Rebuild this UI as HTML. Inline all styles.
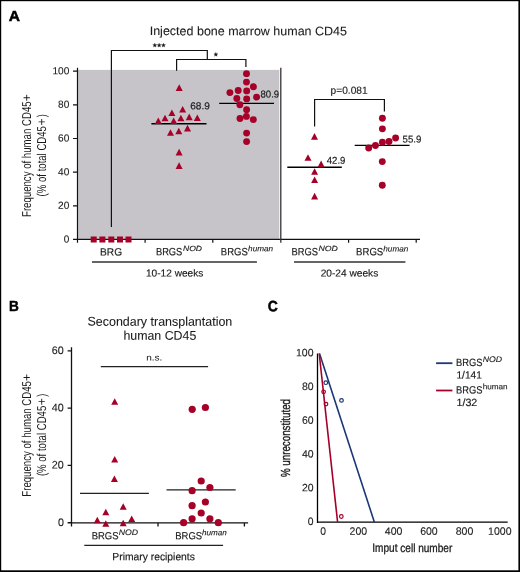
<!DOCTYPE html>
<html><head><meta charset="utf-8"><style>
html,body{margin:0;padding:0;background:#fff;width:520px;height:572px;overflow:hidden}
svg{display:block;will-change:transform}
text{font-family:"Liberation Sans",sans-serif;font-kerning:none;white-space:pre;text-rendering:geometricPrecision}
</style></head><body>
<svg width="520" height="572" viewBox="0 0 520 572">
<rect width="520" height="572" fill="#fff"/>
<rect x="0" y="0" width="520" height="1.2" fill="#000"/>
<rect x="0" y="0" width="1.2" height="572" fill="#000"/>
<rect x="518.4" y="0" width="1.6" height="572" fill="#000"/>
<rect x="0" y="570.3" width="520" height="1.7" fill="#000"/>
<rect x="78.1" y="69.9" width="201.2" height="169" fill="#c6c4c9"/>
<path d="M77.5,67.8V242.8M73,71.20H77.5M73,104.86H77.5M73,138.52H77.5M73,172.18H77.5M73,205.84H77.5M73,239.50H77.5M73,239.4H420M145.1,239.4V242.7M212.8,239.4V242.7M348.6,239.4V242.7M416.2,239.4V242.7M111.4,227V50.5H207.3V59.5M176.6,70.8V59.5H245.9V67M314.6,126.5V99.5H384.4V111.5" fill="none" stroke="#111" stroke-width="1.2"/>
<g fill="#1a1a1a" stroke="#1a1a1a" stroke-width="0.3"><polygon points="154.80,43.15 155.36,44.53 156.84,44.64 155.70,45.59 156.06,47.04 154.80,46.25 153.54,47.04 153.90,45.59 152.76,44.64 154.24,44.53"/><polygon points="159.15,43.15 159.71,44.53 161.19,44.64 160.05,45.59 160.41,47.04 159.15,46.25 157.89,47.04 158.25,45.59 157.11,44.64 158.59,44.53"/><polygon points="163.45,43.15 164.01,44.53 165.49,44.64 164.35,45.59 164.71,47.04 163.45,46.25 162.19,47.04 162.55,45.59 161.41,44.64 162.89,44.53"/><polygon points="215.85,52.35 216.41,53.73 217.89,53.84 216.75,54.79 217.11,56.24 215.85,55.45 214.59,56.24 214.95,54.79 213.81,53.84 215.29,53.73"/></g>
<path d="M280.8,67.7V242.7" fill="none" stroke="#333" stroke-width="1.3"/>
<path d="M151.4,123.8H206.5M219.2,103.4H274M287.3,167.3H341.8M354.7,145.4H409.6" fill="none" stroke="#000" stroke-width="1.4"/>
<path d="M92,262H256.9M294,262H405.4" fill="none" stroke="#333" stroke-width="1.5"/>
<path d="M71.5,347.2V526.4M67.6,350.90H71.5M67.6,408.17H71.5M67.6,465.44H71.5M67.6,522.71H71.5M67.6,522.8H248.1M158.0,522.8V526.5M244.4,522.8V526.5" fill="none" stroke="#111" stroke-width="1.3"/>
<path d="M100.8,366.6H208.1M84.3,545.4H223.1" fill="none" stroke="#222" stroke-width="1.3"/>
<path d="M80,493.3H148.9M166.5,489.8H235.7" fill="none" stroke="#222" stroke-width="1.3"/>
<g fill="#a60029"><rect x="90.70" y="236.5" width="6" height="6"/><rect x="99.40" y="236.5" width="6" height="6"/><rect x="108.30" y="236.5" width="6" height="6"/><rect x="117.00" y="236.5" width="6" height="6"/><rect x="125.50" y="236.5" width="6" height="6"/><polygon points="179.20,84.30 175.70,90.90 182.70,90.90"/><polygon points="182.65,106.00 179.15,112.60 186.15,112.60"/><polygon points="171.90,109.50 168.40,116.10 175.40,116.10"/><polygon points="165.00,114.70 161.50,121.30 168.50,121.30"/><polygon points="180.90,114.70 177.40,121.30 184.40,121.30"/><polygon points="189.20,113.60 185.70,120.20 192.70,120.20"/><polygon points="197.30,114.40 193.80,121.00 200.80,121.00"/><polygon points="158.30,117.50 154.80,124.10 161.80,124.10"/><polygon points="173.65,117.50 170.15,124.10 177.15,124.10"/><polygon points="187.50,124.80 184.00,131.40 191.00,131.40"/><polygon points="178.80,127.70 175.30,134.30 182.30,134.30"/><polygon points="170.50,129.20 167.00,135.80 174.00,135.80"/><polygon points="179.10,148.80 175.60,155.40 182.60,155.40"/><polygon points="179.10,162.30 175.60,168.90 182.60,168.90"/><circle cx="246.50" cy="73.65" r="3.45"/><circle cx="246.50" cy="82.10" r="3.45"/><circle cx="253.40" cy="86.80" r="3.45"/><circle cx="238.20" cy="90.50" r="3.45"/><circle cx="246.70" cy="90.90" r="3.45"/><circle cx="229.90" cy="92.60" r="3.45"/><circle cx="256.60" cy="97.10" r="3.45"/><circle cx="236.80" cy="98.50" r="3.45"/><circle cx="246.70" cy="98.90" r="3.45"/><circle cx="239.85" cy="104.80" r="3.45"/><circle cx="246.60" cy="109.80" r="3.45"/><circle cx="246.40" cy="116.40" r="3.45"/><circle cx="240.00" cy="118.50" r="3.45"/><circle cx="253.30" cy="119.60" r="3.45"/><circle cx="246.60" cy="133.10" r="3.45"/><circle cx="246.60" cy="141.60" r="3.45"/><polygon points="314.50,133.10 311.00,139.70 318.00,139.70"/><polygon points="308.00,154.20 304.50,160.80 311.50,160.80"/><polygon points="321.10,160.60 317.60,167.20 324.60,167.20"/><polygon points="314.60,168.20 311.10,174.80 318.10,174.80"/><polygon points="314.60,176.50 311.10,183.10 318.10,183.10"/><polygon points="314.60,192.80 311.10,199.40 318.10,199.40"/><circle cx="382.40" cy="118.20" r="3.45"/><circle cx="382.40" cy="128.85" r="3.45"/><circle cx="395.60" cy="137.95" r="3.45"/><circle cx="389.00" cy="141.50" r="3.45"/><circle cx="382.40" cy="142.20" r="3.45"/><circle cx="375.45" cy="145.55" r="3.45"/><circle cx="368.70" cy="148.05" r="3.45"/><circle cx="382.30" cy="161.60" r="3.45"/><circle cx="382.30" cy="185.20" r="3.45"/><polygon points="114.70,398.20 111.20,404.70 118.20,404.70"/><polygon points="114.70,455.90 111.20,462.40 118.20,462.40"/><polygon points="114.40,475.50 110.90,482.00 117.90,482.00"/><polygon points="123.20,503.20 119.70,509.70 126.70,509.70"/><polygon points="105.80,508.80 102.30,515.30 109.30,515.30"/><polygon points="97.30,516.70 93.80,523.20 100.80,523.20"/><polygon points="131.70,515.60 128.20,522.10 135.20,522.10"/><polygon points="105.80,520.20 102.30,526.70 109.30,526.70"/><polygon points="123.20,519.80 119.70,526.30 126.70,526.30"/><circle cx="192.20" cy="409.30" r="3.60"/><circle cx="205.40" cy="407.50" r="3.60"/><circle cx="201.20" cy="481.00" r="3.60"/><circle cx="192.10" cy="490.70" r="3.60"/><circle cx="209.90" cy="487.50" r="3.60"/><circle cx="205.40" cy="502.00" r="3.60"/><circle cx="192.10" cy="505.70" r="3.60"/><circle cx="201.20" cy="513.00" r="3.60"/><circle cx="192.10" cy="518.80" r="3.60"/><circle cx="209.90" cy="518.80" r="3.60"/><circle cx="183.60" cy="522.70" r="3.60"/><circle cx="218.30" cy="522.70" r="3.60"/></g>
<path d="M317.5,353.5V522.9M316.9,522.2H507.7" fill="none" stroke="#000" stroke-width="1.3"/>
<path d="M319.5,353.5L374.4,522.2" fill="none" stroke="#1c3776" stroke-width="1.6"/>
<path d="M319.2,353.5L337.6,522.2" fill="none" stroke="#a60029" stroke-width="1.6"/>
<g fill="none" stroke-width="1.2"><circle cx="325.80" cy="382.70" r="1.8" stroke="#1c3776"/><circle cx="341.50" cy="400.40" r="1.8" stroke="#1c3776"/><circle cx="323.60" cy="391.80" r="1.8" stroke="#a60029"/><circle cx="326.00" cy="404.10" r="1.8" stroke="#a60029"/><circle cx="341.30" cy="516.50" r="1.8" stroke="#a60029"/></g>
<path d="M436.1,363.2H452.4" stroke="#1c3776" stroke-width="1.8"/>
<path d="M436.1,390.5H452.4" stroke="#a60029" stroke-width="1.8"/>
<text x="8.71" y="21.00" transform="rotate(0.05 14.32 21.00)" textLength="11.25" lengthAdjust="spacingAndGlyphs" font-weight="bold" style="font-size:14.60px" fill="#000" stroke="#000" stroke-width="0.50">A</text>
<text x="149.69" y="35.20" transform="rotate(0.05 248.65 35.20)" textLength="197.30" lengthAdjust="spacingAndGlyphs" style="font-size:12.35px" fill="#1a1a1a" stroke="#1a1a1a" stroke-width="0.08">Injected bone marrow human CD45</text>
<text x="330.62" y="93.80" transform="rotate(0.05 349.20 93.80)" textLength="37.00" lengthAdjust="spacingAndGlyphs" style="font-size:10.20px" fill="#1a1a1a" stroke="#1a1a1a" stroke-width="0.15">p=0.081</text>
<text x="52.44" y="74.20" transform="rotate(0.05 61.08 74.20)" textLength="16.91" lengthAdjust="spacingAndGlyphs" style="font-size:10.20px" fill="#1a1a1a" stroke="#1a1a1a" stroke-width="0.10">100</text>
<text x="58.11" y="107.86" transform="rotate(0.05 63.75 107.86)" textLength="11.24" lengthAdjust="spacingAndGlyphs" style="font-size:10.20px" fill="#1a1a1a" stroke="#1a1a1a" stroke-width="0.10">80</text>
<text x="58.11" y="141.52" transform="rotate(0.05 63.79 141.52)" textLength="11.24" lengthAdjust="spacingAndGlyphs" style="font-size:10.20px" fill="#1a1a1a" stroke="#1a1a1a" stroke-width="0.10">60</text>
<text x="58.11" y="175.18" transform="rotate(0.05 63.64 175.18)" textLength="11.24" lengthAdjust="spacingAndGlyphs" style="font-size:10.20px" fill="#1a1a1a" stroke="#1a1a1a" stroke-width="0.10">40</text>
<text x="58.11" y="208.84" transform="rotate(0.05 63.78 208.84)" textLength="11.24" lengthAdjust="spacingAndGlyphs" style="font-size:10.20px" fill="#1a1a1a" stroke="#1a1a1a" stroke-width="0.10">20</text>
<text x="63.78" y="242.50" transform="rotate(0.05 66.56 242.50)" textLength="5.56" lengthAdjust="spacingAndGlyphs" style="font-size:10.20px" fill="#1a1a1a" stroke="#1a1a1a" stroke-width="0.10">0</text>
<text x="190.28" y="109.30" transform="rotate(0.05 200.10 109.30)" textLength="19.61" lengthAdjust="spacingAndGlyphs" style="font-size:9.90px" fill="#1a1a1a" stroke="#1a1a1a" stroke-width="0.18">68.9</text>
<text x="260.47" y="97.50" transform="rotate(0.05 269.80 97.50)" textLength="18.69" lengthAdjust="spacingAndGlyphs" style="font-size:9.90px" fill="#1a1a1a" stroke="#1a1a1a" stroke-width="0.18">80.9</text>
<text x="326.77" y="163.70" transform="rotate(0.05 335.95 163.70)" textLength="18.59" lengthAdjust="spacingAndGlyphs" style="font-size:9.90px" fill="#1a1a1a" stroke="#1a1a1a" stroke-width="0.18">42.9</text>
<text x="402.60" y="142.50" transform="rotate(0.05 411.95 142.50)" textLength="18.76" lengthAdjust="spacingAndGlyphs" style="font-size:9.90px" fill="#1a1a1a" stroke="#1a1a1a" stroke-width="0.18">55.9</text>
<text x="100.05" y="255.40" transform="rotate(0.05 111.10 255.40)" textLength="22.03" lengthAdjust="spacingAndGlyphs" style="font-size:10.50px" fill="#1a1a1a" stroke="#1a1a1a" stroke-width="0.16">BRG</text>
<text x="155.91" y="255.30" transform="rotate(0.05 169.30 255.30)" textLength="26.43" lengthAdjust="spacingAndGlyphs" style="font-size:10.50px" fill="#1a1a1a" stroke="#1a1a1a" stroke-width="0.16">BRGS</text>
<text x="183.00" y="251.00" transform="rotate(0.05 192.50 251.00)" textLength="19.02" lengthAdjust="spacingAndGlyphs" font-style="italic" style="font-size:7.50px" fill="#1a1a1a" stroke="#1a1a1a" stroke-width="0.12">NOD</text>
<text x="220.80" y="255.30" transform="rotate(0.05 234.45 255.30)" textLength="26.96" lengthAdjust="spacingAndGlyphs" style="font-size:10.50px" fill="#1a1a1a" stroke="#1a1a1a" stroke-width="0.16">BRGS</text>
<text x="248.12" y="251.30" transform="rotate(0.05 260.50 251.30)" textLength="24.99" lengthAdjust="spacingAndGlyphs" font-style="italic" style="font-size:7.90px" fill="#1a1a1a" stroke="#1a1a1a" stroke-width="0.12">human</text>
<text x="291.61" y="255.30" transform="rotate(0.05 305.00 255.30)" textLength="26.43" lengthAdjust="spacingAndGlyphs" style="font-size:10.50px" fill="#1a1a1a" stroke="#1a1a1a" stroke-width="0.16">BRGS</text>
<text x="318.59" y="251.00" transform="rotate(0.05 328.25 251.00)" textLength="19.33" lengthAdjust="spacingAndGlyphs" font-style="italic" style="font-size:7.50px" fill="#1a1a1a" stroke="#1a1a1a" stroke-width="0.12">NOD</text>
<text x="356.09" y="255.30" transform="rotate(0.05 369.85 255.30)" textLength="27.17" lengthAdjust="spacingAndGlyphs" style="font-size:10.50px" fill="#1a1a1a" stroke="#1a1a1a" stroke-width="0.16">BRGS</text>
<text x="383.32" y="251.40" transform="rotate(0.05 395.70 251.40)" textLength="24.99" lengthAdjust="spacingAndGlyphs" font-style="italic" style="font-size:7.90px" fill="#1a1a1a" stroke="#1a1a1a" stroke-width="0.12">human</text>
<text x="146.01" y="276.50" transform="rotate(0.05 174.85 276.50)" textLength="57.28" lengthAdjust="spacingAndGlyphs" style="font-size:10.10px" fill="#1a1a1a" stroke="#1a1a1a" stroke-width="0.15">10-12 weeks</text>
<text x="320.66" y="276.50" transform="rotate(0.05 349.55 276.50)" textLength="57.63" lengthAdjust="spacingAndGlyphs" style="font-size:10.10px" fill="#1a1a1a" stroke="#1a1a1a" stroke-width="0.15">20-24 weeks</text>
<text transform="translate(30.90 216.99) rotate(-90)" x="0" y="0" textLength="115.59" lengthAdjust="spacingAndGlyphs" style="font-size:12.90px" fill="#1a1a1a">Frequency of human CD45</text>
<text transform="translate(30.90 101.18) rotate(-90)" x="0" y="0" textLength="6.97" lengthAdjust="spacingAndGlyphs" style="font-size:12.90px" fill="#1a1a1a">+</text>
<text transform="translate(45.70 196.39) rotate(-90)" x="0" y="0" textLength="70.30" lengthAdjust="spacingAndGlyphs" style="font-size:12.90px" fill="#1a1a1a">(% of total CD45</text>
<text transform="translate(45.70 125.50) rotate(-90)" x="0" y="0" textLength="7.21" lengthAdjust="spacingAndGlyphs" style="font-size:12.90px" fill="#1a1a1a">+</text>
<text transform="translate(45.70 117.15) rotate(-90)" x="0" y="0" textLength="3.01" lengthAdjust="spacingAndGlyphs" style="font-size:12.90px" fill="#1a1a1a">)</text>
<text x="9.04" y="311.00" transform="rotate(0.05 14.10 311.00)" textLength="9.83" lengthAdjust="spacingAndGlyphs" font-weight="bold" style="font-size:14.70px" fill="#000" stroke="#000" stroke-width="0.50">B</text>
<text x="87.57" y="325.70" transform="rotate(0.05 159.80 325.70)" textLength="144.69" lengthAdjust="spacingAndGlyphs" style="font-size:12.60px" fill="#1a1a1a" stroke="#1a1a1a" stroke-width="0.08">Secondary transplantation</text>
<text x="123.38" y="339.70" transform="rotate(0.05 160.00 339.70)" textLength="72.90" lengthAdjust="spacingAndGlyphs" style="font-size:12.60px" fill="#1a1a1a" stroke="#1a1a1a" stroke-width="0.08">human CD45</text>
<text x="146.26" y="360.40" transform="rotate(0.05 154.20 360.40)" textLength="16.13" lengthAdjust="spacingAndGlyphs" style="font-size:8.70px" fill="#1a1a1a" stroke="#1a1a1a" stroke-width="0.05">n.s.</text>
<text x="51.86" y="354.10" transform="rotate(0.05 57.93 354.10)" textLength="12.02" lengthAdjust="spacingAndGlyphs" style="font-size:10.90px" fill="#1a1a1a" stroke="#1a1a1a" stroke-width="0.10">60</text>
<text x="51.85" y="411.37" transform="rotate(0.05 57.78 411.37)" textLength="12.02" lengthAdjust="spacingAndGlyphs" style="font-size:10.90px" fill="#1a1a1a" stroke="#1a1a1a" stroke-width="0.10">40</text>
<text x="51.86" y="468.64" transform="rotate(0.05 57.92 468.64)" textLength="12.02" lengthAdjust="spacingAndGlyphs" style="font-size:10.90px" fill="#1a1a1a" stroke="#1a1a1a" stroke-width="0.10">20</text>
<text x="57.92" y="525.91" transform="rotate(0.05 60.89 525.91)" textLength="5.95" lengthAdjust="spacingAndGlyphs" style="font-size:10.90px" fill="#1a1a1a" stroke="#1a1a1a" stroke-width="0.10">0</text>
<text x="91.70" y="539.20" transform="rotate(0.05 105.30 539.20)" textLength="26.85" lengthAdjust="spacingAndGlyphs" style="font-size:10.30px" fill="#1a1a1a" stroke="#1a1a1a" stroke-width="0.16">BRGS</text>
<text x="118.69" y="535.00" transform="rotate(0.05 128.35 535.00)" textLength="19.33" lengthAdjust="spacingAndGlyphs" font-style="italic" style="font-size:8.00px" fill="#1a1a1a" stroke="#1a1a1a" stroke-width="0.12">NOD</text>
<text x="175.30" y="539.30" transform="rotate(0.05 188.90 539.30)" textLength="26.85" lengthAdjust="spacingAndGlyphs" style="font-size:10.30px" fill="#1a1a1a" stroke="#1a1a1a" stroke-width="0.16">BRGS</text>
<text x="202.13" y="535.20" transform="rotate(0.05 214.35 535.20)" textLength="24.68" lengthAdjust="spacingAndGlyphs" font-style="italic" style="font-size:7.80px" fill="#1a1a1a" stroke="#1a1a1a" stroke-width="0.12">human</text>
<text x="112.33" y="560.20" transform="rotate(0.05 153.85 560.20)" textLength="82.56" lengthAdjust="spacingAndGlyphs" style="font-size:10.60px" fill="#1a1a1a" stroke="#1a1a1a" stroke-width="0.16">Primary recipients</text>
<text transform="translate(30.90 496.69) rotate(-90)" x="0" y="0" textLength="115.59" lengthAdjust="spacingAndGlyphs" style="font-size:12.90px" fill="#1a1a1a">Frequency of human CD45</text>
<text transform="translate(30.90 380.88) rotate(-90)" x="0" y="0" textLength="6.97" lengthAdjust="spacingAndGlyphs" style="font-size:12.90px" fill="#1a1a1a">+</text>
<text transform="translate(45.70 476.09) rotate(-90)" x="0" y="0" textLength="70.30" lengthAdjust="spacingAndGlyphs" style="font-size:12.90px" fill="#1a1a1a">(% of total CD45</text>
<text transform="translate(45.70 405.20) rotate(-90)" x="0" y="0" textLength="7.21" lengthAdjust="spacingAndGlyphs" style="font-size:12.90px" fill="#1a1a1a">+</text>
<text transform="translate(45.70 396.85) rotate(-90)" x="0" y="0" textLength="3.01" lengthAdjust="spacingAndGlyphs" style="font-size:12.90px" fill="#1a1a1a">)</text>
<text x="267.78" y="311.30" transform="rotate(0.05 272.90 311.30)" textLength="10.05" lengthAdjust="spacingAndGlyphs" font-weight="bold" style="font-size:15.00px" fill="#000" stroke="#000" stroke-width="0.50">C</text>
<text x="296.03" y="356.20" transform="rotate(0.05 305.02 356.20)" textLength="17.58" lengthAdjust="spacingAndGlyphs" style="font-size:10.60px" fill="#1a1a1a" stroke="#1a1a1a" stroke-width="0.10">100</text>
<text x="301.93" y="389.90" transform="rotate(0.05 307.79 389.90)" textLength="11.68" lengthAdjust="spacingAndGlyphs" style="font-size:10.60px" fill="#1a1a1a" stroke="#1a1a1a" stroke-width="0.10">80</text>
<text x="301.93" y="423.70" transform="rotate(0.05 307.83 423.70)" textLength="11.68" lengthAdjust="spacingAndGlyphs" style="font-size:10.60px" fill="#1a1a1a" stroke="#1a1a1a" stroke-width="0.10">60</text>
<text x="301.93" y="457.50" transform="rotate(0.05 307.68 457.50)" textLength="11.68" lengthAdjust="spacingAndGlyphs" style="font-size:10.60px" fill="#1a1a1a" stroke="#1a1a1a" stroke-width="0.10">40</text>
<text x="301.93" y="491.30" transform="rotate(0.05 307.83 491.30)" textLength="11.68" lengthAdjust="spacingAndGlyphs" style="font-size:10.60px" fill="#1a1a1a" stroke="#1a1a1a" stroke-width="0.10">20</text>
<text x="307.83" y="525.10" transform="rotate(0.05 310.72 525.10)" textLength="5.78" lengthAdjust="spacingAndGlyphs" style="font-size:10.60px" fill="#1a1a1a" stroke="#1a1a1a" stroke-width="0.10">0</text>
<text x="320.31" y="534.80" transform="rotate(0.05 323.20 534.80)" textLength="5.78" lengthAdjust="spacingAndGlyphs" style="font-size:10.60px" fill="#1a1a1a" stroke="#1a1a1a" stroke-width="0.10">0</text>
<text x="349.55" y="534.80" transform="rotate(0.05 358.40 534.80)" textLength="17.58" lengthAdjust="spacingAndGlyphs" style="font-size:10.60px" fill="#1a1a1a" stroke="#1a1a1a" stroke-width="0.10">200</text>
<text x="384.79" y="534.80" transform="rotate(0.05 393.50 534.80)" textLength="17.58" lengthAdjust="spacingAndGlyphs" style="font-size:10.60px" fill="#1a1a1a" stroke="#1a1a1a" stroke-width="0.10">400</text>
<text x="420.15" y="534.80" transform="rotate(0.05 429.00 534.80)" textLength="17.58" lengthAdjust="spacingAndGlyphs" style="font-size:10.60px" fill="#1a1a1a" stroke="#1a1a1a" stroke-width="0.10">600</text>
<text x="455.69" y="534.80" transform="rotate(0.05 464.50 534.80)" textLength="17.58" lengthAdjust="spacingAndGlyphs" style="font-size:10.60px" fill="#1a1a1a" stroke="#1a1a1a" stroke-width="0.10">800</text>
<text x="488.07" y="534.80" transform="rotate(0.05 500.00 534.80)" textLength="23.48" lengthAdjust="spacingAndGlyphs" style="font-size:10.60px" fill="#1a1a1a" stroke="#1a1a1a" stroke-width="0.10">1000</text>
<text x="372.32" y="551.90" transform="rotate(0.05 412.70 551.90)" textLength="80.00" lengthAdjust="spacingAndGlyphs" style="font-size:11.90px" fill="#1a1a1a" stroke="#1a1a1a" stroke-width="0.30">Imput cell number</text>
<text transform="translate(289.80 477.07) rotate(-90)" x="0" y="0" textLength="78.13" lengthAdjust="spacingAndGlyphs" style="font-size:13.10px" fill="#1a1a1a" stroke="#1a1a1a" stroke-width="0.35">% unreconstituted</text>
<text x="456.11" y="365.90" transform="rotate(0.05 469.50 365.90)" textLength="26.43" lengthAdjust="spacingAndGlyphs" style="font-size:10.50px" fill="#1a1a1a" stroke="#1a1a1a" stroke-width="0.16">BRGS</text>
<text x="482.69" y="361.90" transform="rotate(0.05 492.35 361.90)" textLength="19.33" lengthAdjust="spacingAndGlyphs" font-style="italic" style="font-size:8.10px" fill="#1a1a1a" stroke="#1a1a1a" stroke-width="0.12">NOD</text>
<text x="456.51" y="378.50" transform="rotate(0.05 469.30 378.50)" textLength="25.30" lengthAdjust="spacingAndGlyphs" style="font-size:10.50px" fill="#1a1a1a" stroke="#1a1a1a" stroke-width="0.16">1/141</text>
<text x="456.11" y="393.60" transform="rotate(0.05 469.50 393.60)" textLength="26.43" lengthAdjust="spacingAndGlyphs" style="font-size:10.50px" fill="#1a1a1a" stroke="#1a1a1a" stroke-width="0.16">BRGS</text>
<text x="482.69" y="389.30" transform="rotate(0.05 495.20 389.30)" textLength="24.98" lengthAdjust="spacingAndGlyphs" style="font-size:7.80px" fill="#1a1a1a" stroke="#1a1a1a" stroke-width="0.12">human</text>
<text x="456.47" y="405.90" transform="rotate(0.05 467.00 405.90)" textLength="20.79" lengthAdjust="spacingAndGlyphs" style="font-size:10.50px" fill="#1a1a1a" stroke="#1a1a1a" stroke-width="0.16">1/32</text>
</svg>
</body></html>
